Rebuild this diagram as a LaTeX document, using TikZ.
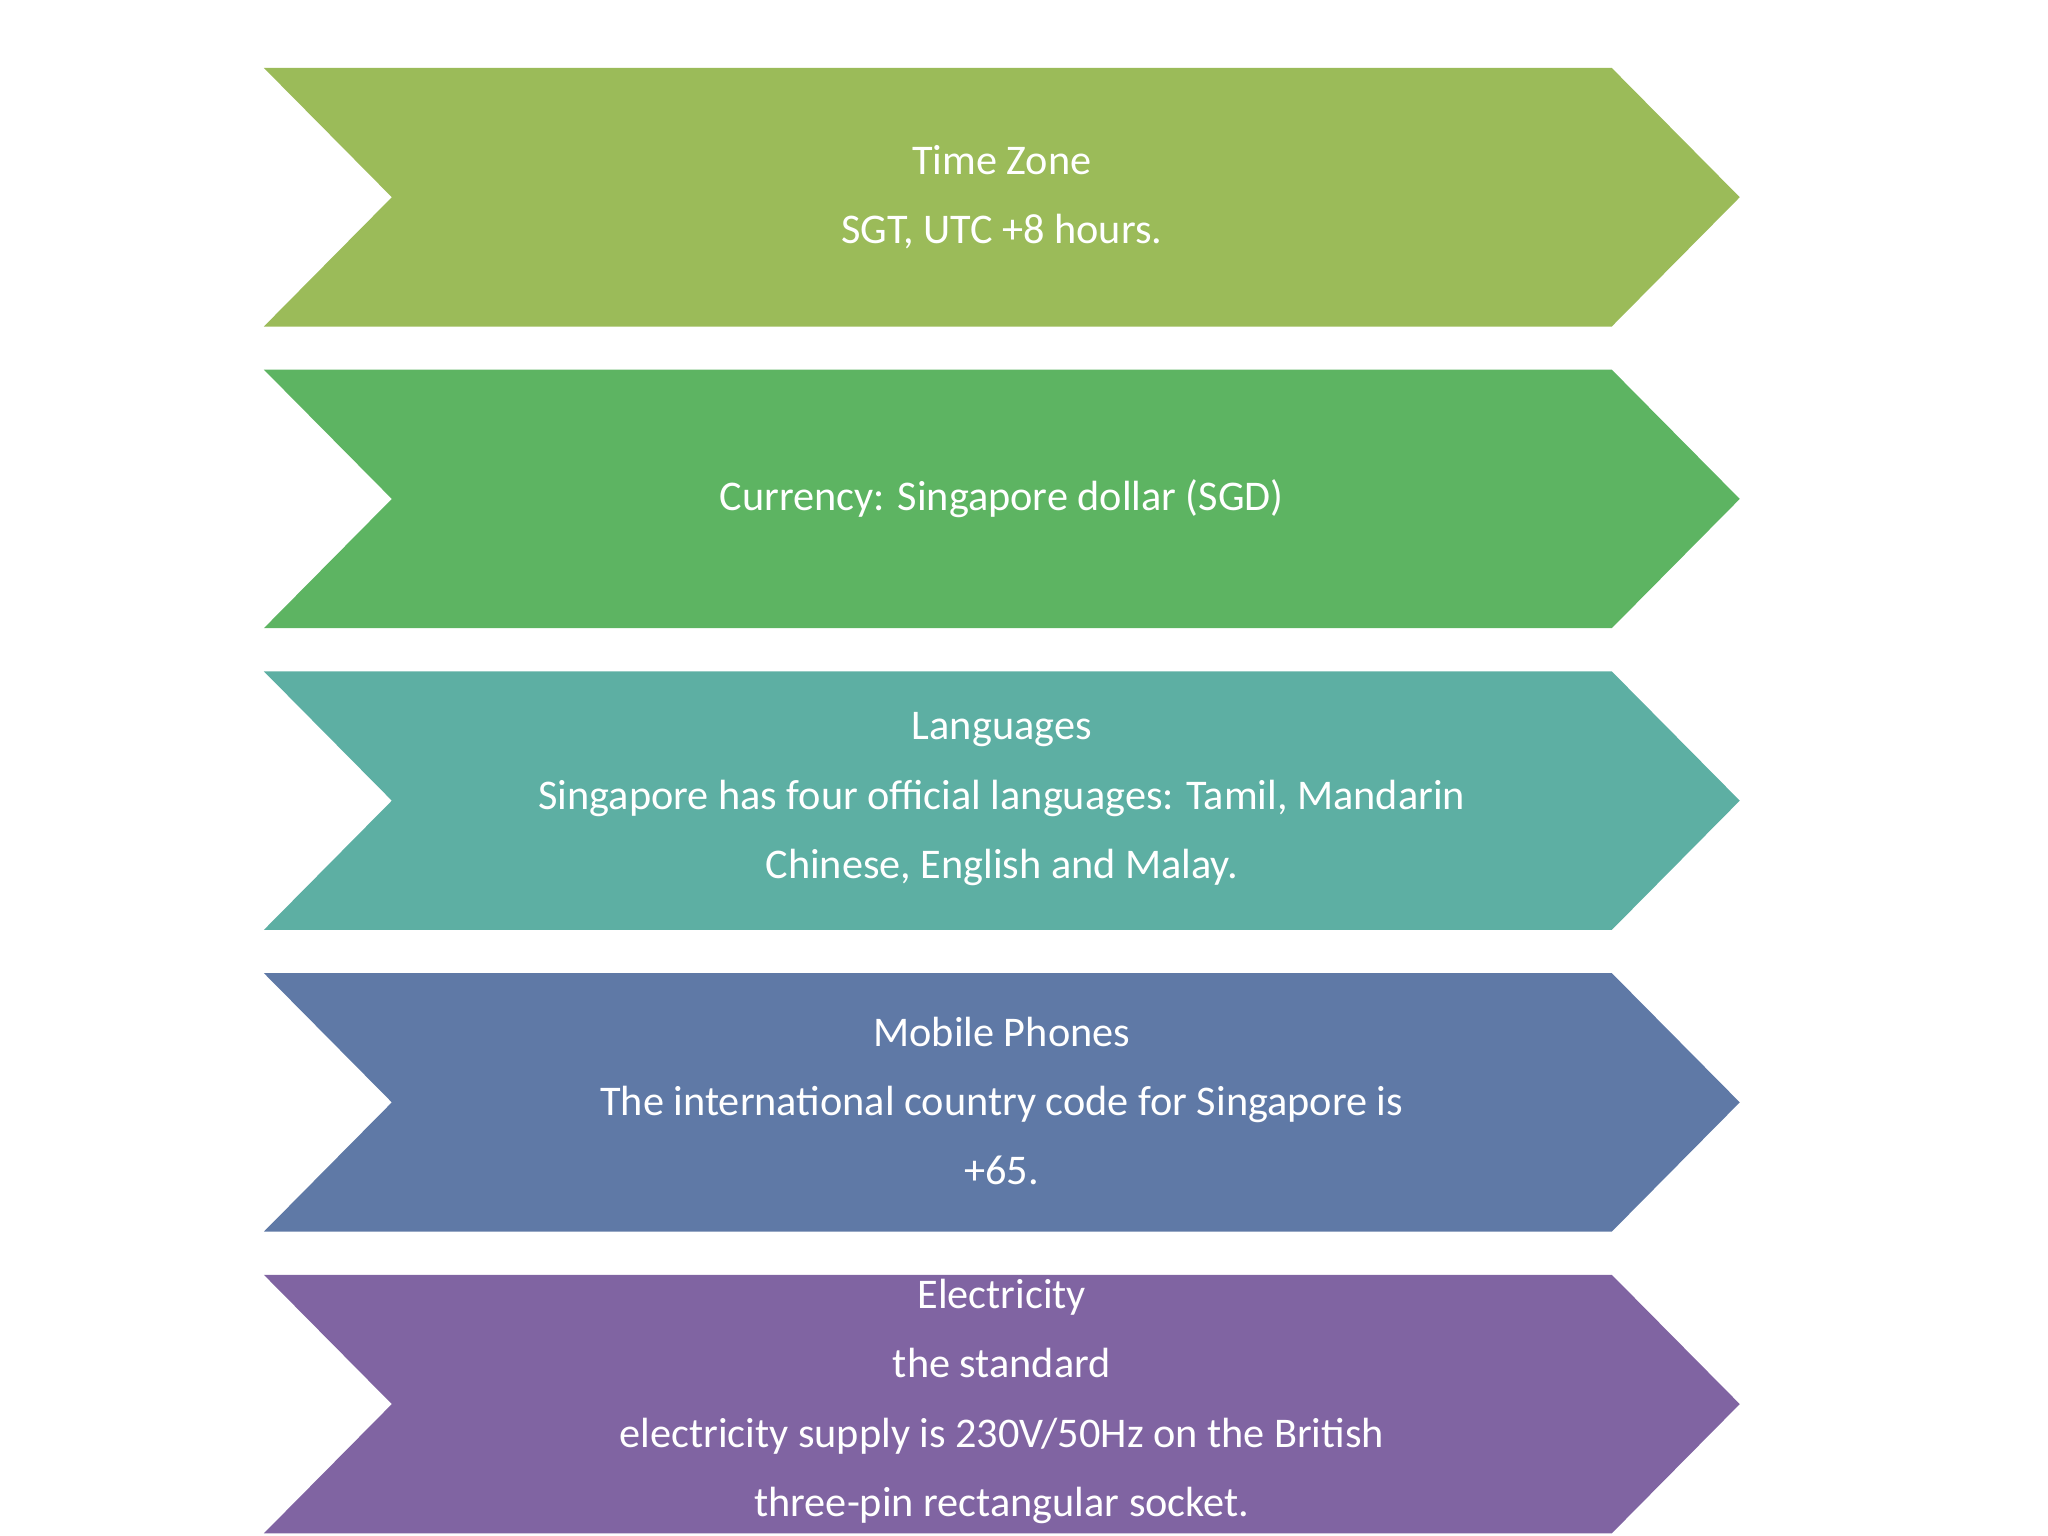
\documentclass[tikz,border=0pt]{standalone}
\usepackage{fontspec}
\setmainfont{Carlito}
\begin{document}
\begin{tikzpicture}[x=0.01cm,y=-0.01cm]
\useasboundingbox (0,0) rectangle (1568,1176);
\tikzset{lbl/.style={text=white,align=center,font=\fontsize{9.2pt}{15.1pt}\selectfont}}
\definecolor{c1}{HTML}{9BBB59}
\definecolor{c2}{HTML}{5DB462}
\definecolor{c3}{HTML}{5DAFA3}
\definecolor{c4}{HTML}{5F79A6}
\definecolor{c5}{HTML}{8064A2}
\foreach \t/\c in {52/c1,283/c2,514/c3,745/c4,976/c5}{
  \fill[\c] (202,\t) -- (1234,\t) -- (1332,\t+99) -- (1234,\t+198) -- (202,\t+198) -- (300,\t+99) -- cycle;
}
\node[lbl] (a) at (767,151) {Time Zone\\SGT, UTC +8 hours.};
\node[lbl] (b) at (767,382) {Currency: Singapore dollar (SGD)};
\node[lbl] (c) at (767,612) {Languages\\Singapore has four official languages: Tamil, Mandarin\\Chinese, English and Malay.};
\node[lbl] (d) at (767,843) {Mobile Phones\\The international country code for Singapore is\\+65.};
\node[lbl] (e) at (767,1073) {Electricity\\the standard\\electricity supply is 230V/50Hz on the British\\three-pin rectangular socket.};
\end{tikzpicture}
\end{document}
